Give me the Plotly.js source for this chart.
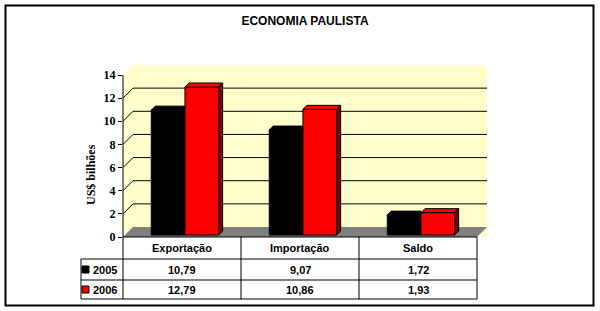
<!DOCTYPE html>
<html>
<head>
<meta charset="utf-8">
<script src="https://cdn.plot.ly/plotly-3.0.1.min.js"></script>
<style>html,body{margin:0;padding:0;background:#fff;}#chart{width:600px;height:311px;}</style>
</head>
<body>
<div id="chart"></div>
<script>
// ---- data ----
var categories = ['Exportação', 'Importação', 'Saldo'];
var seriesNames = ['2005', '2006'];
var values2005 = [10.79, 9.07, 1.72];
var values2006 = [12.79, 10.86, 1.93];
var valueLabels2005 = ['10,79', '9,07', '1,72'];
var valueLabels2006 = ['12,79', '10,86', '1,93'];
var yTicks = [0, 2, 4, 6, 8, 10, 12, 14];

// ---- geometry (pixels) ----
var W = 600, H = 311;
var L = 123, R = 487, T = 65, B = 237;        // plot area incl. 3D depth
var catPx = 118;                               // px per category (front)
var pxPerUnit = 162 / 14;                      // px per y unit
var depth = 10;                                // wall depth px
var barDepth = 4;
var xMin = -0.5, xMax = -0.5 + (R - L) / catPx;
var yMax = (B - T) / pxPerUnit;
function dX(px){ return px / catPx; }
function dY(px){ return px / pxPerUnit; }
function pX(px){ return (px - L) / (R - L); }
function pY(py){ return (B - py) / (B - T); }

var colors = ['#000000', '#FF0000'];
var sideColors = ['#000000', '#800000'];
var bw = 0.2856, junction = 0.025, base = dY(2);
var allValues = [values2005, values2006];
var offsets = [junction - bw, junction];

var traces = allValues.map(function(vals, s){
  return {
    type: 'bar', name: seriesNames[s],
    x: categories.map(function(c, i){ return i; }),
    y: vals, base: base, width: bw, offset: offsets[s],
    marker: {color: colors[s], line: {color: '#000', width: 1}},
    hoverinfo: 'y'
  };
});

var shapes = [];
// yellow wall (full plot area minus top-left corner)
shapes.push({type:'path', xref:'x', yref:'y', layer:'below',
  path: 'M'+xMin+','+0+' L'+xMin+','+14+' L'+(xMin+dX(depth))+','+yMax+' L'+xMax+','+yMax+' L'+xMax+','+0+' Z',
  fillcolor:'#FFFFCC', line:{width:0}});
// gridlines
yTicks.forEach(function(v){
  if (v > 0 && v < 14) {
    shapes.push({type:'line', xref:'x', yref:'y', layer:'below',
      x0: xMin + dX(depth), x1: xMax, y0: v + dY(depth), y1: v + dY(depth),
      line:{color:'#000', width:1}});
    shapes.push({type:'line', xref:'x', yref:'y', layer:'below',
      x0: xMin, x1: xMin + dX(depth), y0: v, y1: v + dY(depth),
      line:{color:'#000', width:1}});
  }
});
// floor
shapes.push({type:'path', xref:'x', yref:'y', layer:'below',
  path: 'M'+xMin+',0 L'+(xMin+dX(depth))+','+dY(depth)+' L'+xMax+','+dY(depth)+' L'+(xMax-dX(depth))+',0 Z',
  fillcolor:'#808080', line:{width:0}});

// 3D faces of bars
allValues.forEach(function(vals, s){
  vals.forEach(function(v, i){
    var x0 = i + offsets[s], x1 = x0 + bw;
    var top = base + v, dx = dX(barDepth), dy = dY(barDepth);
    var xr = (s === 0) ? x1 : x1 + dx;
    shapes.push({type:'path', xref:'x', yref:'y', layer:'above',
      path:'M'+x0+','+top+' L'+(x0+dx)+','+(top+dy)+' L'+xr+','+(top+dy)+' L'+x1+','+top+' Z',
      fillcolor: colors[s], line:{color:'#000', width:1}});
    if (s === 1) {
      shapes.push({type:'path', xref:'x', yref:'y', layer:'above',
        path:'M'+x1+','+top+' L'+(x1+dx)+','+(top+dy)+' L'+(x1+dx)+','+(base+dy)+' L'+x1+','+base+' Z',
        fillcolor: sideColors[s], line:{color:'#000', width:1}});
    }
  });
});

// axis line
shapes.push({type:'line', xref:'paper', yref:'y', x0:0, x1:0, y0:0, y1:14, line:{color:'#000', width:1}});

// data table lines
function hline(py, x0, x1){ shapes.push({type:'line', xref:'paper', yref:'paper', x0:pX(x0), x1:pX(x1), y0:pY(py), y1:pY(py), line:{color:'#000', width:1}}); }
function vline(px, y0, y1){ shapes.push({type:'line', xref:'paper', yref:'paper', x0:pX(px), x1:pX(px), y0:pY(y0), y1:pY(y1), line:{color:'#000', width:1}}); }
var tblLeft = 81, tblRight = L + catPx * categories.length;
var rowTop = 237, row1 = 259, row2 = 280, rowBot = 299;
hline(rowTop, L, tblRight);
hline(row1, tblLeft, tblRight);
hline(row2, tblLeft, tblRight);
hline(rowBot, tblLeft, tblRight);
vline(tblLeft, row1, rowBot);
for (var c = 0; c <= categories.length; c++) vline(L + c * catPx, rowTop, rowBot);

// legend swatches
[ (row1 + row2) / 2, (row2 + rowBot) / 2 ].forEach(function(cy, s){
  shapes.push({type:'rect', xref:'paper', yref:'paper',
    x0:pX(82), x1:pX(89), y0:pY(cy - 3.5), y1:pY(cy + 3.5),
    fillcolor: colors[s], line:{color:'#000', width:1}});
});

// outer border
shapes.push({type:'rect', xref:'paper', yref:'paper', x0:pX(5.5), x1:pX(593.5), y0:pY(5.5), y1:pY(305.5),
  line:{color:'#000', width:2}, fillcolor:'rgba(0,0,0,0)'});

var tf = {family:'Liberation Sans, Arial, sans-serif', size:11, color:'#000', weight:'bold'};
var annotations = [];
categories.forEach(function(cat, i){
  annotations.push({xref:'x', yref:'paper', x:i, y:pY((rowTop + row1) / 2), text:cat, showarrow:false, font:tf, xanchor:'center', yanchor:'middle'});
  annotations.push({xref:'x', yref:'paper', x:i, y:pY((row1 + row2) / 2), text:valueLabels2005[i], showarrow:false, font:tf, xanchor:'center', yanchor:'middle'});
  annotations.push({xref:'x', yref:'paper', x:i, y:pY((row2 + rowBot) / 2), text:valueLabels2006[i], showarrow:false, font:tf, xanchor:'center', yanchor:'middle'});
});
seriesNames.forEach(function(n, s){
  var cy = s === 0 ? (row1 + row2) / 2 : (row2 + rowBot) / 2;
  annotations.push({xref:'paper', yref:'paper', x:pX(91), y:pY(cy), text:n, showarrow:false, font:tf, xanchor:'left', yanchor:'middle'});
});
annotations.push({xref:'paper', yref:'paper', x:pX(91), y:pY(175), text:'US$ bilhões', textangle:-90, showarrow:false,
  font:{family:'Liberation Serif, Times New Roman, serif', size:12, color:'#000', weight:'bold'}, xanchor:'center', yanchor:'middle'});

var layout = {
  width: W, height: H,
  margin: {l: L, r: W - R, t: T, b: H - B, pad: 0},
  paper_bgcolor: '#fff', plot_bgcolor: '#fff',
  showlegend: false,
  title: {text: 'ECONOMIA PAULISTA', x: 0.5, xref: 'paper', xanchor: 'center', y: 1 - 21 / H, yanchor: 'middle',
    font: {family: 'Liberation Sans, Arial, sans-serif', size: 12, color: '#000', weight: 'bold'}},
  xaxis: {range: [xMin, xMax], showgrid: false, zeroline: false, showticklabels: false, ticks: '', showline: false, fixedrange: true},
  yaxis: {range: [0, yMax], tickvals: yTicks, ticktext: yTicks.map(String), ticks: 'outside', ticklen: 4, tickcolor: '#000',
    showgrid: false, zeroline: false, showline: false,
    tickfont: {family: 'Liberation Serif, Times New Roman, serif', size: 12, color: '#000', weight: 'bold'}, fixedrange: true},
  shapes: shapes,
  annotations: annotations
};
Plotly.newPlot('chart', traces, layout, {displayModeBar: false, staticPlot: true});
</script>
</body>
</html>
